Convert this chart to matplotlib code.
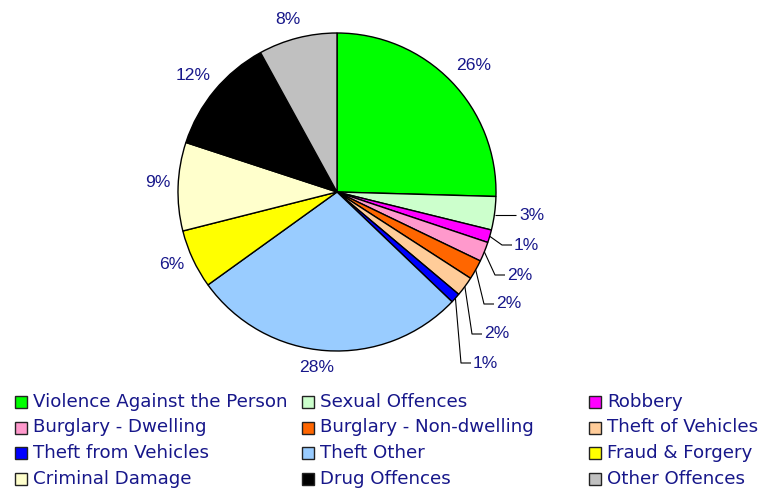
import matplotlib
matplotlib.use("Agg")
import matplotlib.pyplot as plt
from matplotlib.patches import Rectangle
import numpy as np

categories = ["Violence Against the Person", "Sexual Offences", "Robbery",
              "Burglary - Dwelling", "Burglary - Non-dwelling", "Theft of Vehicles",
              "Theft from Vehicles", "Theft Other", "Fraud & Forgery",
              "Criminal Damage", "Drug Offences", "Other Offences"]
values = [25.5, 3.4, 1.3, 2.0, 2.0, 2.0, 1.0, 28.0, 6.0, 9.0, 12.0, 8.0]
labels = ["26%", "3%", "1%", "2%", "2%", "2%", "1%", "28%", "6%", "9%", "12%", "8%"]
colors = ["#00ff00", "#ccffcc", "#ff00ff", "#ff99cc", "#ff6600", "#ffcc99",
          "#0000ff", "#99ccff", "#ffff00", "#ffffcc", "#000000", "#c0c0c0"]

TXT = "#17178a"
W, H = 761, 488
fig = plt.figure(figsize=(W / 100, H / 100), dpi=100)
ax = fig.add_axes([0, 0, 1, 1])
ax.set_axis_off()

cx, cy, R = 337, 192, 159  # pixel layout of the pie

wedges, _ = ax.pie(values, colors=colors, startangle=90, counterclock=False,
                   radius=1, center=(0, 0),
                   wedgeprops=dict(edgecolor="black", linewidth=1.0))
ax.set_xlim(-cx / R, (W - cx) / R)
ax.set_ylim(-(H - cy) / R, cy / R)
ax.set_aspect("auto")

def px(x, y):
    return ((x - cx) / R, (cy - y) / R)

font = "Liberation Sans"
fs = 12.6

# label placement (layout): radial factor and small angular nudge for large slices
radial = {0: (1.17, -1.5), 7: (1.113, -2.6), 8: (1.135, -1.3), 9: (1.127, -1.2),
          10: (1.163, 0.6), 11: (1.127, 1.6)}
small_left = {1: (519, 215), 2: (514, 245), 3: (507, 275), 4: (496, 304), 5: (484, 334), 6: (473, 363)}
total = sum(values)
cum = 0
for i, (v, lab) in enumerate(zip(values, labels)):
    mid = 90 - 360 * (cum + v / 2) / total
    cum += v
    if i in small_left:
        a = np.deg2rad(mid)
        lx, ly = small_left[i]
        tx, ty = px(lx, ly)
        ex, ey = np.cos(a), np.sin(a)
        elbow_x = tx - 12 / R
        xs = [ex, elbow_x, tx - 2 / R]
        ys = [ey, ty, ty]
        if i == 1:
            xs = [ex, tx - 3 / R]
            ys = [ty, ty]
        ax.plot(xs, ys, color="black", linewidth=0.8, solid_capstyle="butt")
        ax.text(tx, ty, lab, ha="left", va="center", fontsize=fs, color=TXT, family=font)
    else:
        r, d = radial[i]
        a = np.deg2rad(mid + d)
        ax.text(r * np.cos(a), r * np.sin(a), lab, ha="center", va="center",
                fontsize=fs, color=TXT, family=font)

# manual legend, row-major in 3 columns
col_x = [15, 302, 589]
row_y = [402, 427.5, 453, 478.5]
for i, (name, c) in enumerate(zip(categories, colors)):
    r, k = divmod(i, 3)
    x0, y0 = col_x[k], row_y[r]
    fig.patches.append(Rectangle((x0 / W, 1 - (y0 + 6) / H), 12 / W, 12 / H,
                                 transform=fig.transFigure, facecolor=c,
                                 edgecolor="#222222", linewidth=1.0))
    fig.text((x0 + 18) / W, 1 - y0 / H, name, ha="left", va="center",
             fontsize=13.15, color=TXT, family="DejaVu Sans")

fig.savefig("out.png", dpi=100)
